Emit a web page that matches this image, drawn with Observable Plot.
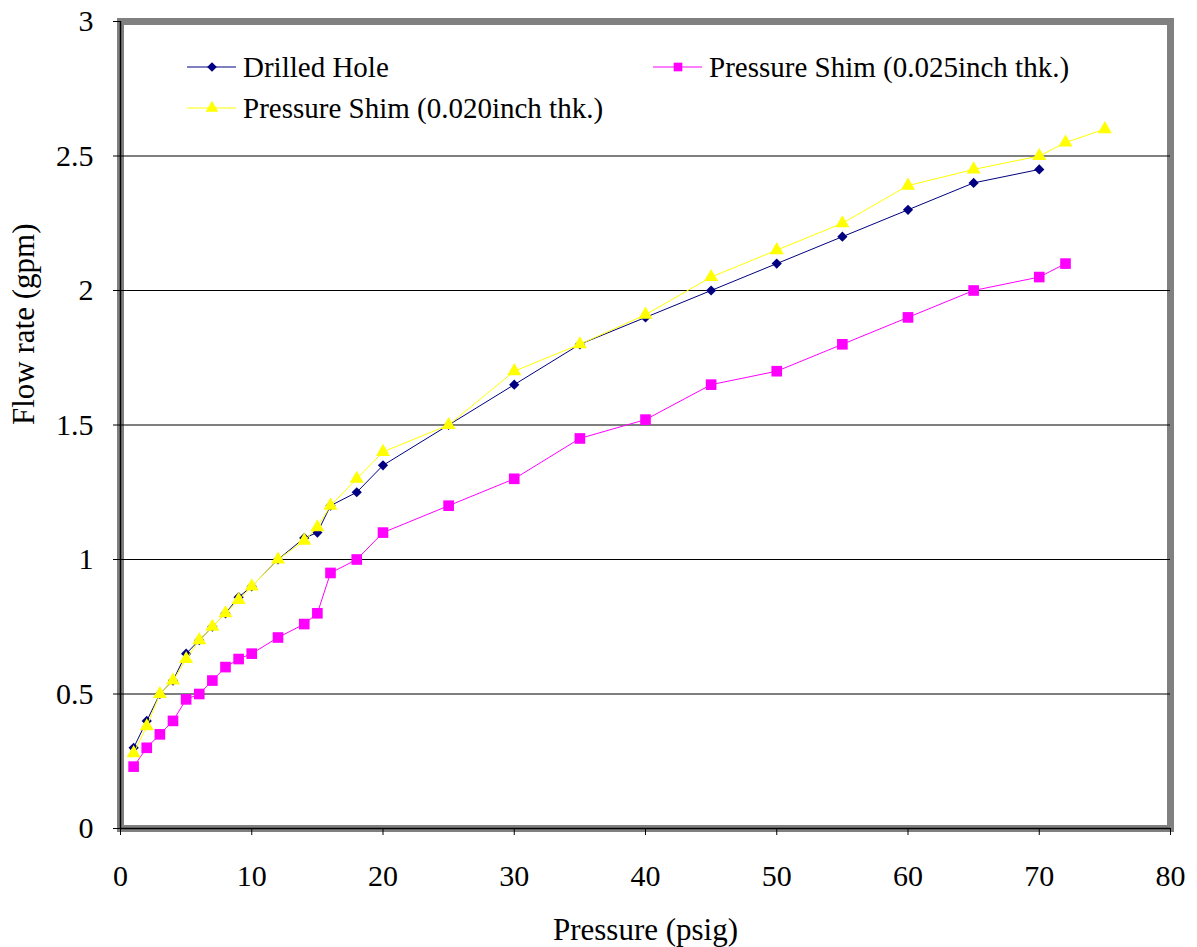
<!DOCTYPE html>
<html>
<head>
<meta charset="utf-8">
<script src="https://cdn.jsdelivr.net/npm/d3@7"></script>
<script src="https://cdn.jsdelivr.net/npm/@observablehq/plot@0.6"></script>
<style>
  html, body { margin: 0; padding: 0; background: #fff; }
  svg { display: block; }
</style>
</head>
<body>
<div id="chart"></div>
<script>
// ---- data ----
const drilledX = [1,2,3,4,5,6,7,8,9,10,12,14,15,16,18,20,25,30,35,40,45,50,55,60,65,70];
const drilledY = [0.30,0.40,0.50,0.55,0.65,0.70,0.75,0.80,0.86,0.90,1.00,1.08,1.10,1.20,1.25,1.35,1.50,1.65,1.80,1.90,2.00,2.10,2.20,2.30,2.40,2.45];

const shim025X = [1,2,3,4,5,6,7,8,9,10,12,14,15,16,18,20,25,30,35,40,45,50,55,60,65,70,72];
const shim025Y = [0.23,0.30,0.35,0.40,0.48,0.50,0.55,0.60,0.63,0.65,0.71,0.76,0.80,0.95,1.00,1.10,1.20,1.30,1.45,1.52,1.65,1.70,1.80,1.90,2.00,2.05,2.10];

const shim020X = [1,2,3,4,5,6,7,8,9,10,12,14,15,16,18,20,25,30,35,40,45,50,55,60,65,70,72,75];
const shim020Y = [0.28,0.38,0.50,0.55,0.63,0.70,0.75,0.80,0.85,0.90,1.00,1.07,1.12,1.20,1.30,1.40,1.50,1.70,1.80,1.91,2.05,2.15,2.25,2.39,2.45,2.50,2.55,2.60];

const seriesNames = ["Drilled Hole", "Pressure Shim (0.025inch thk.)", "Pressure Shim (0.020inch thk.)"];
const seriesColors = ["#000080", "#FF00FF", "#FFFF00"];
const seriesSymbols = ["diamond2", "square", "triangle"];

const xTicks = [0,10,20,30,40,50,60,70,80];
const yTicks = [0,0.5,1,1.5,2,2.5,3];
const gridValues = [0.5,1,1.5,2,2.5];

const xTitle = "Pressure (psig)";
const yTitle = "Flow rate (gpm)";

const toRows = (xs, ys) => xs.map((x, i) => ({x, y: ys[i]}));
const drilled = toRows(drilledX, drilledY);
const shim025 = toRows(shim025X, shim025Y);
const shim020 = toRows(shim020X, shim020Y);

const font = "'Liberation Serif', 'Times New Roman', serif";

const chart = Plot.plot({
  width: 1197,
  height: 947,
  marginLeft: 120,
  marginRight: 27,
  marginTop: 21,
  marginBottom: 119,
  style: {fontFamily: font, background: "#fff", overflow: "visible"},
  x: {domain: [0, 80]},
  y: {domain: [0, 3]},
  marks: [
    Plot.frame({stroke: "#808080", strokeWidth: 7}),
    Plot.ruleY(gridValues, {stroke: "#000", strokeWidth: 1}),
    Plot.ruleX([0], {stroke: "#000", strokeWidth: 1.5}),
    Plot.ruleY([0], {stroke: "#000", strokeWidth: 1.5}),
    Plot.axisX({ticks: xTicks, tickSize: 7, tickPadding: 29, fontSize: 30, stroke: "#000", label: null, tickFormat: d => String(d)}),
    Plot.axisY({ticks: yTicks, tickSize: 7, tickPadding: 20, fontSize: 30, stroke: "#000", label: null, tickFormat: d => String(d)}),
    // Drilled hole
    Plot.line(drilled, {x: "x", y: "y", stroke: seriesColors[0], strokeWidth: 1}),
    Plot.dot(drilled, {x: "x", y: "y", symbol: seriesSymbols[0], r: 4.6, fill: seriesColors[0], stroke: "none"}),
    // Shim 0.025
    Plot.line(shim025, {x: "x", y: "y", stroke: seriesColors[1], strokeWidth: 1}),
    Plot.dot(shim025, {x: "x", y: "y", symbol: seriesSymbols[1], r: 6, fill: seriesColors[1], stroke: "none"}),
    // Shim 0.020
    Plot.line(shim020, {x: "x", y: "y", stroke: seriesColors[2], strokeWidth: 1}),
    Plot.dot(shim020, {x: "x", y: "y", symbol: seriesSymbols[2], r: 5.2, fill: seriesColors[2], stroke: "none"}),
    // Axis titles
    Plot.text([xTitle], {frameAnchor: "bottom", dy: 102, fontSize: 31, fill: "#000", lineAnchor: "middle"}),
    Plot.text([yTitle], {frameAnchor: "left", dx: -96, rotate: -90, fontSize: 31, fill: "#000", lineAnchor: "middle"})
  ]
});

document.getElementById("chart").appendChild(chart);

// ---- legend (inside plot area) ----
const svg = d3.select(chart);
const legendItems = [
  {x: 187, y: 67, i: 0, size: 60},
  {x: 653, y: 67, i: 1, size: 75},
  {x: 187, y: 108, i: 2, size: 70}
];
const d3Symbols = {diamond2: d3.symbolDiamond2, square: d3.symbolSquare, triangle: d3.symbolTriangle};
const lg = svg.append("g").attr("font-family", font).attr("font-size", 29).attr("text-anchor", "start");
legendItems.forEach(it => {
  const g = lg.append("g").attr("transform", `translate(${it.x},${it.y})`);
  g.append("line").attr("x1", 0).attr("x2", 49).attr("y1", 0).attr("y2", 0)
    .attr("stroke", seriesColors[it.i]).attr("stroke-width", 1);
  g.append("path").attr("d", d3.symbol(d3Symbols[seriesSymbols[it.i]], it.size)())
    .attr("transform", "translate(25,0)").attr("fill", seriesColors[it.i]);
  g.append("text").attr("x", 56).attr("y", 0).attr("dy", "0.35em")
    .attr("text-anchor", "start").attr("fill", "#000").text(seriesNames[it.i]);
});
</script>
</body>
</html>
